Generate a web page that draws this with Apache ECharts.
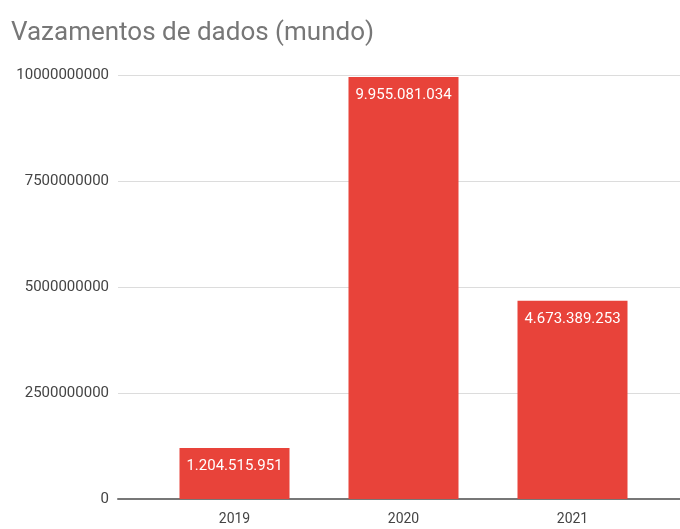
<!DOCTYPE html>
<html><head><meta charset="utf-8">
<script src="https://cdn.jsdelivr.net/npm/echarts@6/dist/echarts.min.js"></script>
<style>html,body{margin:0;padding:0;background:#fff}#c{width:680px;height:529px}</style>
</head><body><div id="c"></div>
<script>
const categories = ['2019', '2020', '2021'];
const values = [1204515951, 9955081034, 4673389253];
const yTicks = [0, 2500000000, 5000000000, 7500000000, 10000000000];

function fmt(v) {
  return String(v).replace(/\B(?=(\d{3})+(?!\d))/g, '.');
}
const chart = echarts.init(document.getElementById('c'));
const yMin = yTicks[0], yMax = yTicks[yTicks.length - 1], yInt = yTicks[1] - yTicks[0];
chart.setOption({
  animation: false,
  textStyle: { fontFamily: 'Roboto' },
  title: {
    text: 'Vazamentos de dados (mundo)',
    left: 6, top: 15,
    textStyle: { fontFamily: 'Roboto', fontSize: 26, fontWeight: 'normal', color: '#777' }
  },
  grid: [
    { left: 118, right: 0, top: 75, bottom: 30 },
    { left: 150, right: 23, top: 75, bottom: 30 }
  ],
  xAxis: [
    { type: 'category', gridIndex: 0, data: [''], axisLine: { show: true, lineStyle: { color: '#777', width: 2 } },
      axisTick: { show: false }, axisLabel: { show: false } },
    { type: 'category', gridIndex: 1, data: categories, axisLine: { show: false }, axisTick: { show: false },
      axisLabel: { color: '#444', fontSize: 14, margin: 13 } }
  ],
  yAxis: [
    { type: 'value', gridIndex: 0, min: yMin, max: yMax, interval: yInt,
      axisLine: { show: false }, axisTick: { show: false },
      axisLabel: { color: '#444', fontSize: 15, margin: 9, formatter: v => String(v) },
      splitLine: { lineStyle: { color: '#dcdcdc', width: 1 } } },
    { type: 'value', gridIndex: 1, min: yMin, max: yMax, interval: yInt, show: false, splitLine: { show: false } }
  ],
  series: [{
    type: 'bar', xAxisIndex: 1, yAxisIndex: 1, data: values, barWidth: 110,
    itemStyle: { color: '#e8433a' },
    label: { show: true, position: 'insideTop', distance: 11, color: '#fff', fontSize: 15,
      formatter: p => fmt(p.value) }
  }]
});
</script></body></html>
